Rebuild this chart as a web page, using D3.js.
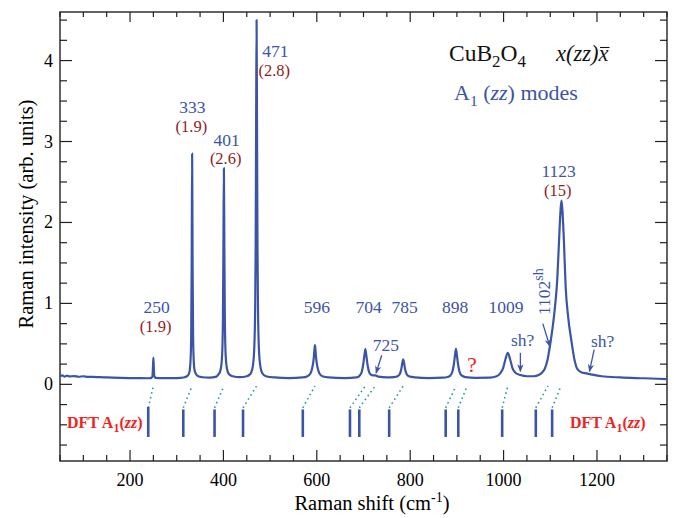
<!DOCTYPE html>
<html>
<head>
<meta charset="utf-8">
<script src="https://cdn.jsdelivr.net/npm/d3@7"></script>
<style>
  body { margin: 0; background: #fff; }
  text { font-family: "Liberation Serif", "Times New Roman", serif; }
</style>
</head>
<body>
<div id="chart"></div>
<script>
// measured spectrum, [Raman shift, intensity]
var spectrum = [
  [50, 0.10], [55, 0.112], [60, 0.095], [65, 0.108], [70, 0.098], [80, 0.102], [90, 0.094],
  [100, 0.1], [110, 0.092], [120, 0.093], [135, 0.088], [150, 0.086], [180, 0.08], [220, 0.076],
  [240, 0.075], [246, 0.08], [248, 0.1], [249, 0.2], [250, 0.33], [251, 0.2], [252, 0.1], [255, 0.08],
  [270, 0.076], [300, 0.078], [315, 0.085], [322, 0.1], [326, 0.13], [328, 0.18], [330, 0.35],
  [331, 0.63], [332, 1.46], [333, 2.85], [334, 1.46], [335, 0.63], [336, 0.35], [338, 0.18],
  [341, 0.13], [346, 0.1], [355, 0.088], [370, 0.082], [385, 0.095], [389, 0.12], [393, 0.16],
  [396, 0.26], [398, 0.49], [399, 0.85], [400, 1.71], [401, 2.67], [402, 1.71], [403, 0.85],
  [404, 0.49], [406, 0.26], [409, 0.16], [413, 0.12], [420, 0.1], [435, 0.088], [450, 0.1],
  [456, 0.12], [459, 0.14], [463, 0.225], [466, 0.44], [468, 0.96], [469, 1.66], [470, 3.14],
  [471, 4.5], [472, 3.14], [473, 1.66], [474, 0.96], [476, 0.44], [479, 0.225], [483, 0.14],
  [491, 0.1], [510, 0.085], [540, 0.078], [570, 0.085], [580, 0.1], [586, 0.13], [590, 0.2],
  [593, 0.3], [595, 0.43], [596, 0.485], [597, 0.43], [599, 0.3], [602, 0.2], [606, 0.13],
  [612, 0.1], [625, 0.085], [660, 0.078], [685, 0.085], [692, 0.11], [696, 0.15], [699, 0.23],
  [702, 0.36], [704, 0.436], [706, 0.36], [709, 0.23], [712, 0.15], [716, 0.12], [720, 0.11],
  [725, 0.112], [732, 0.095], [750, 0.085], [765, 0.09], [773, 0.1], [778, 0.13], [781, 0.19],
  [783, 0.26], [785, 0.31], [787, 0.26], [789, 0.19], [792, 0.13], [797, 0.1], [810, 0.086],
  [840, 0.078], [870, 0.082], [880, 0.09], [886, 0.11], [890, 0.15], [893, 0.23], [896, 0.36],
  [898, 0.44], [900, 0.36], [903, 0.23], [906, 0.15], [910, 0.11], [918, 0.09], [940, 0.08],
  [970, 0.082], [985, 0.1], [992, 0.13], [999, 0.2], [1004, 0.31], [1009, 0.39], [1014, 0.31],
  [1019, 0.2], [1026, 0.14], [1036, 0.115], [1050, 0.1], [1065, 0.1], [1075, 0.115],
  [1083, 0.15], [1088, 0.19], [1094, 0.3], [1100, 0.5], [1105, 0.7], [1110, 0.95], [1115, 1.3],
  [1119, 1.8], [1122, 2.15], [1124, 2.27], [1126, 2.15], [1129, 1.8], [1133, 1.2], [1138, 0.85],
  [1146, 0.51], [1152, 0.3], [1157, 0.2], [1166, 0.15], [1178, 0.135], [1190, 0.12],
  [1210, 0.1], [1250, 0.085], [1300, 0.075], [1350, 0.065]
];

// DFT A1(zz) frequencies
var dftModes = [239, 314, 381, 442, 570, 671, 691, 755, 876, 903, 997, 1069, 1104];
// experimental mode each DFT value is matched to
var expModes = [250, 333, 401, 471, 596, 704, 725, 785, 898, 922, 1009, 1095, 1123];

var peakFreq = ["250", "333", "401", "471", "596", "704", "785", "898", "1009", "1123"];
var peakWidth = ["(1.9)", "(1.9)", "(2.6)", "(2.8)", null, null, null, null, null, "(15)"];
// label anchor [shift, intensity of baseline]
var peakPos = [[257, 0.877], [333.5, 3.35], [407, 2.95], [511, 4.04], [600, 0.877],
  [711, 0.877], [788, 0.877], [896, 0.877], [1005, 0.877], [1118, 2.56]];

var xTicks = [200, 400, 600, 800, 1000, 1200];
var yTicks = [0, 1, 2, 3, 4];

var width = 674, height = 518;
var mLeft = 60, mRight = 667, mTop = 12, mBottom = 461;

var blue = "#3b54a7", brown = "#8e1c1c", red = "#f0221d", teal = "#2a9a98";

var svg = d3.select("#chart").append("svg")
  .attr("width", width)
  .attr("height", height);

var x = d3.scaleLinear().domain([50, 1350]).range([mLeft, mRight]);
var y = d3.scaleLinear().domain([-0.947, 4.6]).range([mBottom, mTop]);

// ticks on all four sides, pointing inward
var xMinor = d3.range(50, 1351, 50);
var yMinor = d3.range(-0.75, 4.6, 0.25);
var axisCol = "#222";

function isMajorX(v) { return v % 200 == 0; }
function isMajorY(v) { return Math.abs(v - Math.round(v)) < 1e-6; }

var tk = svg.append("g").attr("stroke", axisCol).attr("stroke-width", 1.2);
xMinor.forEach(function(v) {
  var len = isMajorX(v) ? 11 : 6;
  tk.append("line").attr("x1", x(v)).attr("x2", x(v)).attr("y1", mBottom).attr("y2", mBottom - len);
  tk.append("line").attr("x1", x(v)).attr("x2", x(v)).attr("y1", mTop).attr("y2", mTop + (isMajorX(v) ? 10 : 5));
});
yMinor.forEach(function(v) {
  var len = isMajorY(v) ? 12 : 7;
  tk.append("line").attr("x1", mLeft).attr("x2", mLeft + len).attr("y1", y(v)).attr("y2", y(v));
  tk.append("line").attr("x1", mRight).attr("x2", mRight - len).attr("y1", y(v)).attr("y2", y(v));
});

svg.append("rect")
  .attr("x", mLeft).attr("y", mTop)
  .attr("width", mRight - mLeft).attr("height", mBottom - mTop)
  .attr("fill", "none").attr("stroke", axisCol).attr("stroke-width", 1.4);

svg.selectAll(".xt").data(xTicks).enter().append("text")
  .attr("x", function(d) { return x(d); })
  .attr("y", 486)
  .attr("text-anchor", "middle")
  .attr("font-size", 18)
  .text(function(d) { return d; });

svg.selectAll(".yt").data(yTicks).enter().append("text")
  .attr("x", 53)
  .attr("y", function(d) { return y(d) + 6; })
  .attr("text-anchor", "end")
  .attr("font-size", 18)
  .text(function(d) { return d; });

// axis titles
var xt = svg.append("text").attr("x", 372).attr("y", 509.5)
  .attr("text-anchor", "middle").attr("font-size", 20.5);
xt.append("tspan").text("Raman shift (cm");
xt.append("tspan").attr("dy", -8).attr("font-size", 14).text("-1");
xt.append("tspan").attr("dy", 8).text(")");

svg.append("text")
  .attr("transform", "translate(33,214) rotate(-90)")
  .attr("text-anchor", "middle")
  .attr("font-size", 20.5)
  .text("Raman intensity (arb. units)");

// dotted links between experiment and DFT
svg.selectAll(".link").data(dftModes).enter().append("line")
  .attr("x1", function(d) { return x(d); })
  .attr("y1", y(-0.29))
  .attr("x2", function(d, i) { return x(expModes[i]); })
  .attr("y2", y(-0.02))
  .attr("stroke", teal)
  .attr("stroke-width", 1.6)
  .attr("stroke-dasharray", "1.6,3.2");

svg.selectAll(".dft").data(dftModes).enter().append("line")
  .attr("x1", function(d) { return x(d); })
  .attr("x2", function(d) { return x(d); })
  .attr("y1", function(d, i) { return y(i == 0 ? -0.28 : -0.31); })
  .attr("y2", y(-0.65))
  .attr("stroke", blue)
  .attr("stroke-width", 2.6);

// spectrum
var line = d3.line()
  .x(function(d) { return x(d[0]); })
  .y(function(d) { return y(d[1]); })
  .curve(d3.curveMonotoneX);

svg.append("path")
  .datum(spectrum)
  .attr("d", line)
  .attr("fill", "none")
  .attr("stroke", blue)
  .attr("stroke-width", 2.2)
  .attr("stroke-linejoin", "round");

// peak labels
peakFreq.forEach(function(f, i) {
  var p = peakPos[i];
  svg.append("text")
    .attr("x", x(p[0])).attr("y", y(p[1]))
    .attr("text-anchor", "middle")
    .attr("font-size", 17.5)
    .attr("fill", blue)
    .text(f);
  if (peakWidth[i]) {
    svg.append("text")
      .attr("x", x(p[0]) - 1).attr("y", y(p[1]) + 18.5)
      .attr("text-anchor", "middle")
      .attr("font-size", 16.5)
      .attr("fill", brown)
      .text(peakWidth[i]);
  }
});

// arrows
svg.append("defs").append("marker")
  .attr("id", "ah")
  .attr("viewBox", "0 0 10 10")
  .attr("refX", 9).attr("refY", 5)
  .attr("markerWidth", 8).attr("markerHeight", 8)
  .attr("markerUnits", "userSpaceOnUse")
  .attr("orient", "auto")
  .append("path")
  .attr("d", "M0,1 L10,5 L0,9 L3,5 Z")
  .attr("fill", blue);

var arrows = [
  [[739, 0.36], [727, 0.14]],
  [[1036, 0.39], [1036, 0.16]],
  [[1084, 0.75], [1099, 0.47]],
  [[1194, 0.43], [1184, 0.16]]
];
arrows.forEach(function(a) {
  svg.append("line")
    .attr("x1", x(a[0][0])).attr("y1", y(a[0][1]))
    .attr("x2", x(a[1][0])).attr("y2", y(a[1][1]))
    .attr("stroke", blue).attr("stroke-width", 1.3)
    .attr("marker-end", "url(#ah)");
});

svg.append("text").attr("x", x(748)).attr("y", y(0.415))
  .attr("text-anchor", "middle").attr("font-size", 17.5).attr("fill", blue).text("725");
svg.append("text").attr("x", x(1041)).attr("y", y(0.473))
  .attr("text-anchor", "middle").attr("font-size", 17.5).attr("fill", blue).text("sh?");
svg.append("text").attr("x", x(1212)).attr("y", y(0.464))
  .attr("text-anchor", "middle").attr("font-size", 17.5).attr("fill", blue).text("sh?");
svg.append("text").attr("x", x(932)).attr("y", y(0.155))
  .attr("text-anchor", "middle").attr("font-size", 22).attr("fill", red).text("?");

var sh = svg.append("text")
  .attr("transform", "translate(" + x(1100) + "," + 315 + ") rotate(-90)")
  .attr("font-size", 17.5).attr("fill", blue);
sh.append("tspan").text("1102");
sh.append("tspan").attr("dy", -7).attr("font-size", 14).text("sh");

// title block
var t1 = svg.append("text").attr("x", 449).attr("y", 61).attr("font-size", 23.5).attr("fill", "#111");
t1.append("tspan").text("CuB");
t1.append("tspan").attr("dy", 6).attr("font-size", 17).text("2");
t1.append("tspan").attr("dy", -6).text("O");
t1.append("tspan").attr("dy", 6).attr("font-size", 17).text("4");

var t2 = svg.append("text").attr("x", 556).attr("y", 61).attr("font-size", 22.5)
  .attr("font-style", "italic").attr("fill", "#111")
  .text("x(zz)x");
// bar over the last x
var n2 = t2.node();
var bx0 = n2.getStartPositionOfChar(5).x, bx1 = n2.getEndPositionOfChar(5).x;
svg.append("line")
  .attr("x1", bx0 + 1.5).attr("x2", bx1 + 1)
  .attr("y1", 47.5).attr("y2", 47.5)
  .attr("stroke", "#111").attr("stroke-width", 1.1);

var t3 = svg.append("text").attr("x", 454).attr("y", 100).attr("font-size", 22).attr("fill", blue);
t3.append("tspan").text("A");
t3.append("tspan").attr("dy", 6).attr("font-size", 15.5).text("1");
t3.append("tspan").attr("dy", -6).text(" (");
t3.append("tspan").attr("font-style", "italic").text("zz");
t3.append("tspan").text(")  modes");

// DFT labels
[67, 570].forEach(function(px) {
  var t = svg.append("text").attr("x", px).attr("y", 428)
    .attr("font-size", 16).attr("font-weight", "bold").attr("fill", red);
  t.append("tspan").text("DFT A");
  t.append("tspan").attr("dy", 4).attr("font-size", 12).text("1");
  t.append("tspan").attr("dy", -4).text("(");
  t.append("tspan").attr("font-style", "italic").text("zz");
  t.append("tspan").text(")");
});
</script>
</body>
</html>
